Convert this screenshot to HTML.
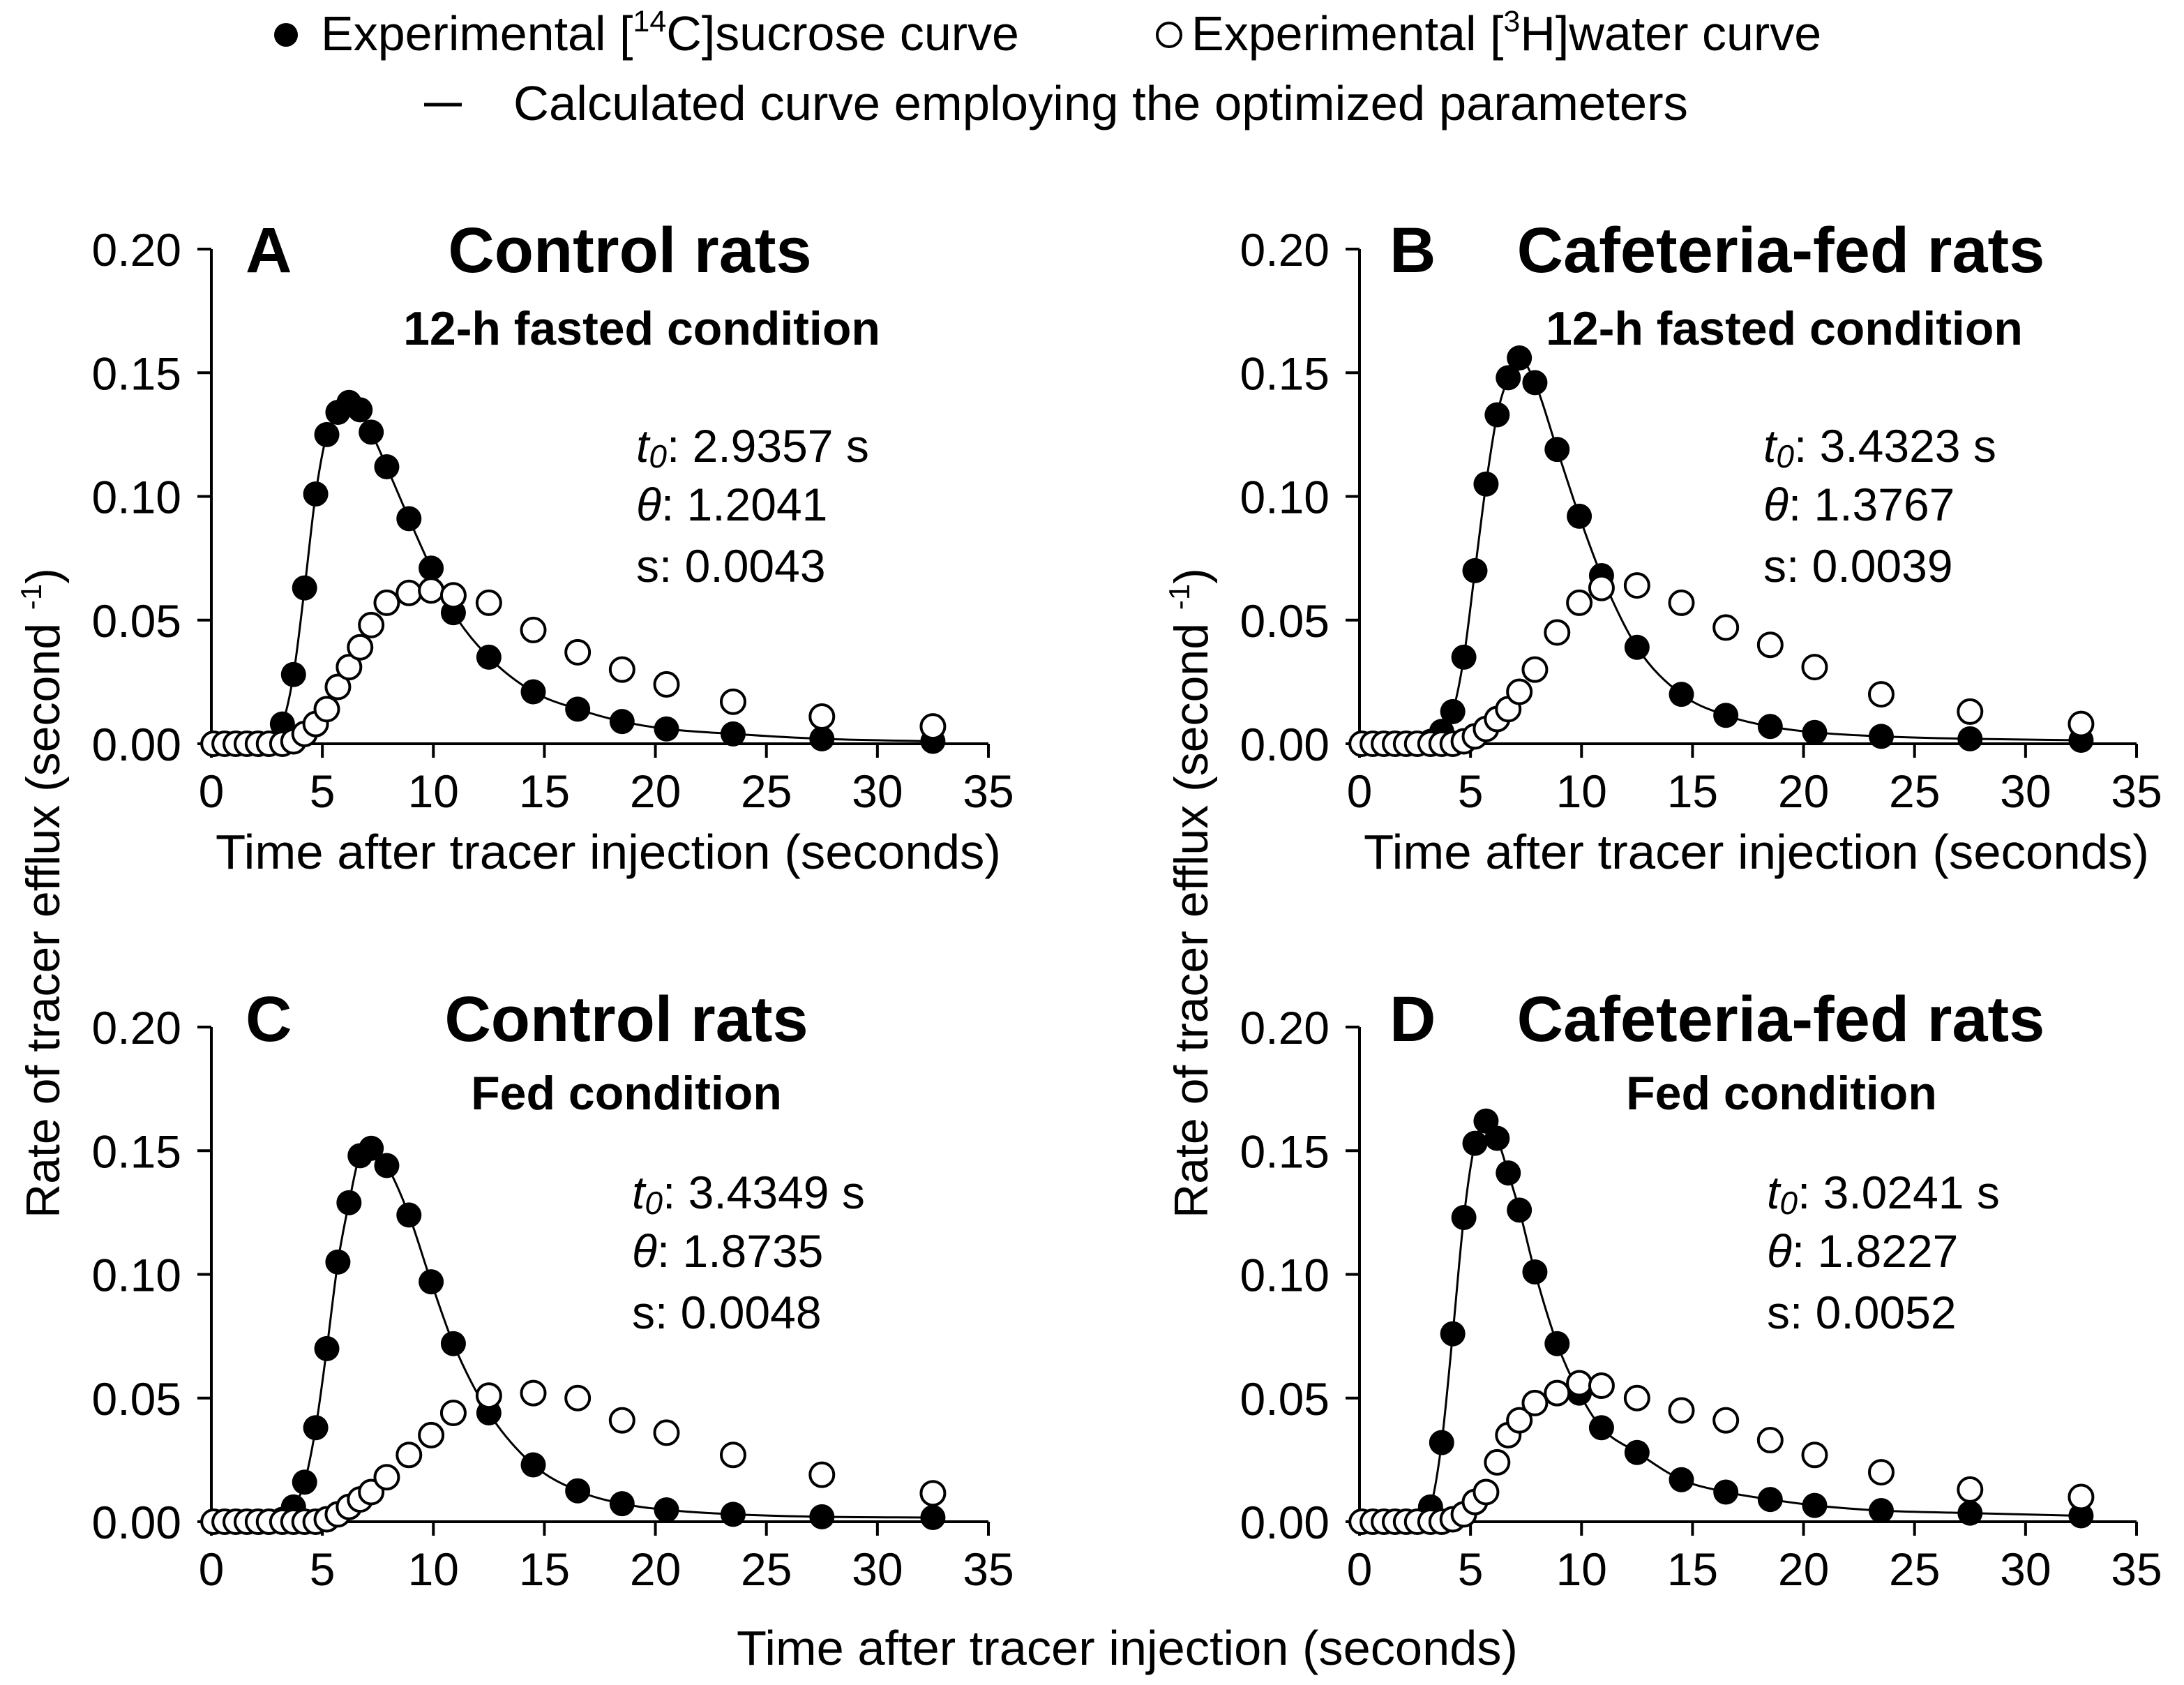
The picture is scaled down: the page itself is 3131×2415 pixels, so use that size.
<!DOCTYPE html>
<html><head><meta charset="utf-8"><style>
html,body{margin:0;padding:0;background:#fff;}
svg{display:block;font-family:"Liberation Sans",Arial,sans-serif;}
</style></head><body>
<svg id="fig" width="3131" height="2415" viewBox="0 0 3131 2415" xmlns="http://www.w3.org/2000/svg">
<g>
  <circle cx="410" cy="50" r="17" fill="#000"/>
  <text x="460" y="72" font-size="70">Experimental [<tspan font-size="43" dy="-27">14</tspan><tspan dy="27">C]sucrose curve</tspan></text>
  <circle cx="1676" cy="50" r="17" fill="#fff" stroke="#000" stroke-width="4"/>
  <text x="1708" y="72" font-size="70">Experimental [<tspan font-size="43" dy="-27">3</tspan><tspan dy="27">H]water curve</tspan></text>
  <line x1="608" y1="150" x2="662" y2="150" stroke="#000" stroke-width="5"/>
  <text x="736" y="172" font-size="70" textLength="1684" lengthAdjust="spacingAndGlyphs">Calculated curve employing the optimized parameters</text>
</g>
<text transform="translate(85,1280) rotate(-90)" text-anchor="middle" font-size="68">Rate of tracer efflux (second <tspan font-size="42" dy="-26">-1</tspan><tspan dy="26">)</tspan></text>
<text transform="translate(1731,1280) rotate(-90)" text-anchor="middle" font-size="68">Rate of tracer efflux (second <tspan font-size="42" dy="-26">-1</tspan><tspan dy="26">)</tspan></text>
<text x="1616" y="2386" text-anchor="middle" font-size="70" textLength="1120" lengthAdjust="spacingAndGlyphs">Time after tracer injection (seconds)</text>
</svg>
<script>
var times = [0.1,0.6,1.1,1.6,2.1,2.6,3.2,3.7,4.2,4.7,5.2,5.7,6.2,6.7,7.2,7.9,8.9,9.9,10.9,12.5,14.5,16.5,18.5,20.5,23.5,27.5,32.5];
var xTicks = [0,5,10,15,20,25,30,35];
var yTicks = [0,0.05,0.10,0.15,0.20];
var yTickLabels = ["0.00","0.05","0.10","0.15","0.20"];
var sucroseA = [0,0,0,0,0,0,0.008,0.028,0.063,0.101,0.125,0.134,0.138,0.135,0.126,0.112,0.091,0.071,0.053,0.035,0.021,0.014,0.009,0.006,0.004,0.002,0.001];
var waterA = [0,0,0,0,0,0,0,0.001,0.004,0.008,0.014,0.023,0.031,0.039,0.048,0.057,0.061,0.062,0.060,0.057,0.046,0.037,0.030,0.024,0.017,0.011,0.007];
var sucroseB = [0,0,0,0,0,0,0.001,0.005,0.013,0.035,0.070,0.105,0.133,0.148,0.156,0.146,0.119,0.092,0.068,0.039,0.020,0.0115,0.007,0.0046,0.003,0.002,0.0014];
var waterB = [0,0,0,0,0,0,0,0,0,0.001,0.003,0.006,0.010,0.014,0.021,0.030,0.045,0.057,0.063,0.064,0.057,0.047,0.040,0.031,0.020,0.013,0.008];
var sucroseC = [0,0,0,0,0,0,0.001,0.006,0.016,0.038,0.070,0.105,0.129,0.148,0.151,0.144,0.124,0.097,0.072,0.044,0.023,0.0125,0.0073,0.0048,0.003,0.002,0.0017];
var waterC = [0,0,0,0,0,0,0,0,0,0,0.001,0.003,0.006,0.009,0.012,0.018,0.027,0.035,0.044,0.051,0.052,0.050,0.041,0.036,0.027,0.019,0.0115];
var sucroseD = [0,0,0,0,0,0,0.006,0.032,0.076,0.123,0.153,0.162,0.155,0.141,0.126,0.101,0.072,0.052,0.038,0.028,0.017,0.012,0.009,0.0066,0.0045,0.0035,0.0024];
var waterD = [0,0,0,0,0,0,0,0,0.001,0.003,0.008,0.012,0.024,0.035,0.041,0.048,0.052,0.056,0.055,0.050,0.045,0.041,0.033,0.027,0.020,0.013,0.010];
var panelLetters = ["A","B","C","D"];
var panelTitles = ["Control rats","Cafeteria-fed rats","Control rats","Cafeteria-fed rats"];
var panelSubtitles = ["12-h fasted condition","12-h fasted condition","Fed condition","Fed condition"];
var paramT0 = ["2.9357 s","3.4323 s","3.4349 s","3.0241 s"];
var paramTheta = ["1.2041","1.3767","1.8735","1.8227"];
var paramS = ["0.0043","0.0039","0.0048","0.0052"];

var NS="http://www.w3.org/2000/svg";
var svg=document.getElementById('fig');
function mk(tag,attrs,parent){var e=document.createElementNS(NS,tag);for(var k in attrs)e.setAttribute(k,attrs[k]);(parent||svg).appendChild(e);return e;}

var layout=[
 {x0:303,y0:1066,letterX:352,titleX:903,subX:920,paramX:912,tb:390,sb:494,pb:[662,746,834],xtitle:true},
 {x0:1949,y0:1066,letterX:1992,titleX:2553,subX:2558,paramX:2528,tb:390,sb:494,pb:[662,746,834],xtitle:true},
 {x0:303,y0:2181,letterX:352,titleX:898,subX:898,paramX:906,tb:1492,sb:1590,pb:[1732,1816,1904],xtitle:false},
 {x0:1949,y0:2181,letterX:1992,titleX:2553,subX:2554,paramX:2533,tb:1492,sb:1590,pb:[1732,1816,1904],xtitle:false}
];
var sucAll=[sucroseA,sucroseB,sucroseC,sucroseD];
var watAll=[waterA,waterB,waterC,waterD];
var XS=1114/35, YS=709/0.20;

function monotonePath(xs,ys){
  var n=xs.length, d=[], m=[];
  for(var i=0;i<n-1;i++){d.push((ys[i+1]-ys[i])/(xs[i+1]-xs[i]));}
  m[0]=d[0]; m[n-1]=d[n-2];
  for(var i=1;i<n-1;i++){ if(d[i-1]*d[i]<=0) m[i]=0; else m[i]=(d[i-1]+d[i])/2; }
  for(var i=0;i<n-1;i++){ if(d[i]===0){m[i]=0;m[i+1]=0;continue;} var a=m[i]/d[i],b=m[i+1]/d[i],s=a*a+b*b; if(s>9){var t=3/Math.sqrt(s);m[i]=t*a*d[i];m[i+1]=t*b*d[i];} }
  var p="M"+xs[0]+","+ys[0];
  for(var i=0;i<n-1;i++){var h=xs[i+1]-xs[i];
    p+=" C"+(xs[i]+h/3)+","+(ys[i]+m[i]*h/3)+" "+(xs[i+1]-h/3)+","+(ys[i+1]-m[i+1]*h/3)+" "+xs[i+1]+","+ys[i+1];}
  return p;
}

layout.forEach(function(L,pi){
  var sx=function(v){return L.x0+v*XS;};
  var sy=function(v){return L.y0-v*YS;};
  var g=mk('g',{});
  
  
  var ax=mk('path',{d:"M"+sx(0)+","+sy(0.20)+" L"+sx(0)+","+sy(0)+" L"+sx(35)+","+sy(0),fill:"none",stroke:"#000","stroke-width":4},g);
  
  
  yTicks.forEach(function(v,i){
    var t=mk('line',{x1:sx(0)-20,x2:sx(0),y1:sy(v),y2:sy(v),stroke:"#000","stroke-width":4},g);
    
    
    var tl=mk('text',{x:sx(0)-43,y:sy(v)+24,"text-anchor":"end","font-size":66},g);
    
    
    tl.textContent=yTickLabels[i];
  });
  xTicks.forEach(function(v){
    var t=mk('line',{x1:sx(v),x2:sx(v),y1:sy(0),y2:sy(0)+20,stroke:"#000","stroke-width":4},g);
    
    
    var tl=mk('text',{x:sx(v),y:sy(0)+91,"text-anchor":"middle","font-size":66},g);
    
    
    tl.textContent=String(v);
  });
  if(L.xtitle){
    var xt=mk('text',{x:sx(17.5)+12,y:sy(0)+179,"text-anchor":"middle","font-size":70,textLength:1126,lengthAdjust:"spacingAndGlyphs"},g);
    
    
    xt.textContent="Time after tracer injection (seconds)";
  }
  var le=mk('text',{x:L.letterX,y:L.tb,"font-size":92,"font-weight":"bold"},g);
  
  
  le.textContent=panelLetters[pi];
  var tt=mk('text',{x:L.titleX,y:L.tb,"text-anchor":"middle","font-size":92,"font-weight":"bold"},g);
  
  
  tt.textContent=panelTitles[pi];
  var st=mk('text',{x:L.subX,y:L.sb,"text-anchor":"middle","font-size":68,"font-weight":"bold"},g);
  
  
  st.textContent=panelSubtitles[pi];
  var p1=mk('text',{x:L.paramX,y:L.pb[0],"font-size":66},g);
  
  
  p1.innerHTML='<tspan font-style="italic">t</tspan><tspan font-style="italic" font-size="46" dy="8">0</tspan><tspan dy="-8">: '+paramT0[pi]+'</tspan>';
  var p2=mk('text',{x:L.paramX,y:L.pb[1],"font-size":66},g);
  
  
  p2.innerHTML='<tspan font-style="italic">θ</tspan>: '+paramTheta[pi];
  var p3=mk('text',{x:L.paramX,y:L.pb[2],"font-size":66},g);
  
  
  p3.textContent="s: "+paramS[pi];
  var suc=sucAll[pi], wat=watAll[pi];
  var fx=[sx(0)], fy=[sy(0)];
  times.forEach(function(t,i){fx.push(sx(t));fy.push(sy(suc[i]));});
  var fit=mk('path',{d:monotonePath(fx,fy),fill:"none",stroke:"#000","stroke-width":3},g);
  
  
  times.forEach(function(t,i){
    var c=mk('circle',{cx:sx(t),cy:sy(suc[i]),r:18,fill:"#000"},g);
    
    
  });
  times.forEach(function(t,i){
    var c=mk('circle',{cx:sx(t),cy:sy(wat[i]),r:17,fill:"#fff",stroke:"#000","stroke-width":4},g);
    
    
  });
});
</script>
</body></html>
